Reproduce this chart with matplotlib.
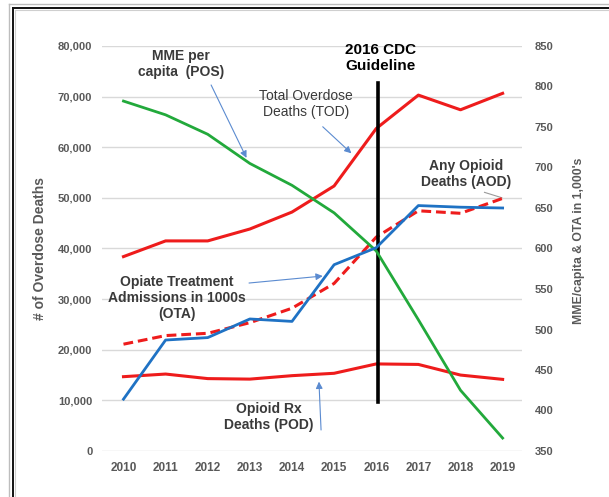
"""Opioid trends 2010-2019 vs 2016 CDC guideline — chart recreation."""
import numpy as np
import matplotlib
matplotlib.use("Agg")
import matplotlib.pyplot as plt
from matplotlib.lines import Line2D

plt.rcParams["font.family"] = ["Liberation Sans", "DejaVu Sans"]

# Data
years = [2010, 2011, 2012, 2013, 2014, 2015, 2016, 2017, 2018, 2019]
tod = [38400, 41500, 41500, 43850, 47200, 52350, 63700, 70300, 67400, 70650]      # total overdose deaths
aod = [21100, 22800, 23250, 25350, 28200, 33100, 42250, 47450, 46950, 49900]      # any opioid deaths
pod = [14680, 15200, 14300, 14200, 14880, 15350, 17200, 17100, 15000, 14150]      # opioid Rx deaths
pos = [782, 765, 741, 705, 678, 644, 597, 512, 425, 366]                          # MME per capita
ota = [414, 487, 490, 513, 510, 580, 601, 653, 651, 650]                          # treatment admissions (1000s)
guide_year = 2016.05
guide_span = [9700, 72600]

left_ticks = [0, 10000, 20000, 30000, 40000, 50000, 60000, 70000, 80000]
right_ticks = [350, 400, 450, 500, 550, 600, 650, 700, 750, 800, 850]

RED = "#EE1C1C"
GREEN = "#22A93B"
BLUE = "#1F72C4"
TXT = "#3A3A3A"
TICK = "#595959"

fig = plt.figure(figsize=(6.09, 4.97), dpi=100)
ax = fig.add_axes([102 / 609, 46 / 497, 420 / 609, 405 / 497])
ax2 = ax.twinx()

# figure frame (gray + black, cut off at right/bottom)
for x, y, c, lw in [(9, 4, "#BDBDBD", 1.0), (12.5, 8, "#111111", 1.4), (14.5, 10, "#CFCFCF", 0.8)]:
    fx, fy = x / 609, 1 - y / 497
    fig.add_artist(Line2D([fx, fx], [0, fy], color=c, lw=lw, transform=fig.transFigure))
    fig.add_artist(Line2D([fx, 1], [fy, fy], color=c, lw=lw, transform=fig.transFigure))

ax.set_xlim(2009.49, 2019.46)
ax.set_ylim(0, 80000)
ax2.set_ylim(350, 850)
ax.set_yticks(left_ticks)
ax.set_yticklabels([f"{v:,}" for v in left_ticks])
ax2.set_yticks(right_ticks)
ax.set_xticks(years)
ax.grid(axis="y", color="#D9D9D9", lw=1.0)
ax.set_axisbelow(True)
for a in (ax, ax2):
    for s in a.spines.values():
        s.set_visible(False)
ax.tick_params(axis="y", length=0, pad=7, labelsize=8, labelcolor=TICK)
ax.tick_params(axis="x", length=0, pad=8, labelsize=8.5, labelcolor=TICK)
ax2.tick_params(axis="y", length=0, pad=9, labelsize=8, labelcolor=TICK)
for lab in ax.get_xticklabels() + ax.get_yticklabels() + ax2.get_yticklabels():
    lab.set_fontweight("bold")

ax.set_ylabel("# of Overdose Deaths", fontsize=10, color=TICK, fontweight="bold")
ax.yaxis.set_label_coords(-0.131, 0.5)
ax2.set_ylabel("MME/capita & OTA in 1,000's", fontsize=8.8, color=TICK, fontweight="bold")
ax2.yaxis.set_label_coords(1.121, 0.52)

# series
ax.plot(years, tod, color=RED, lw=2.2, zorder=3)
ax.plot(years, pod, color=RED, lw=2.2, zorder=3)
ax.plot(years, aod, color=RED, lw=2.2, ls=(0, (3.2, 1.6)), zorder=4)
ax2.plot(years, pos, color=GREEN, lw=2.0, zorder=3)
ax2.plot(years, ota, color=BLUE, lw=2.0, zorder=3)
ax.plot([guide_year, guide_year], guide_span, color="black", lw=2.6, zorder=5)

# annotations
arrow = dict(arrowstyle="-|>", color="#5B8BD0", lw=0.8, mutation_scale=10, shrinkA=0, shrinkB=0)
ax.text(2011.36, 76400, "MME per\ncapita  (POS)", ha="center", va="center", fontsize=10,
        fontweight="bold", color=TXT, linespacing=1.15)
ax.annotate("", xy=(2012.92, 57900), xytext=(2012.08, 72300), arrowprops=arrow)
ax.text(2014.33, 68500, "Total Overdose\nDeaths (TOD)", ha="center", va="center", fontsize=10,
        color=TXT, linespacing=1.15)
ax.annotate("", xy=(2015.41, 58800), xytext=(2014.73, 64050), arrowprops=arrow)
ax.text(2016.11, 77600, "2016 CDC\nGuideline", ha="center", va="center", fontsize=11,
        fontweight="bold", color="black", linespacing=1.15)
ax.text(2018.13, 54700, "Any Opioid\nDeaths (AOD)", ha="center", va="center", fontsize=10,
        fontweight="bold", color=TXT, linespacing=1.15)
ax.plot([2018.57, 2018.98], [51090, 50030], color="#9A9A9A", lw=0.8, zorder=2)
ax.text(2011.27, 30200, "Opiate Treatment\nAdmissions in 1000s\n(OTA)", ha="center", va="center",
        fontsize=10, fontweight="bold", color=TXT, linespacing=1.15)
ax.annotate("", xy=(2014.73, 34560), xytext=(2012.98, 33180), arrowprops=arrow)
ax.text(2013.45, 6700, "Opioid Rx\nDeaths (POD)", ha="center", va="center", fontsize=10,
        fontweight="bold", color=TXT, linespacing=1.15)
ax.annotate("", xy=(2014.64, 13700), xytext=(2014.69, 4150), arrowprops=arrow)

fig.savefig("out.png", dpi=100)
